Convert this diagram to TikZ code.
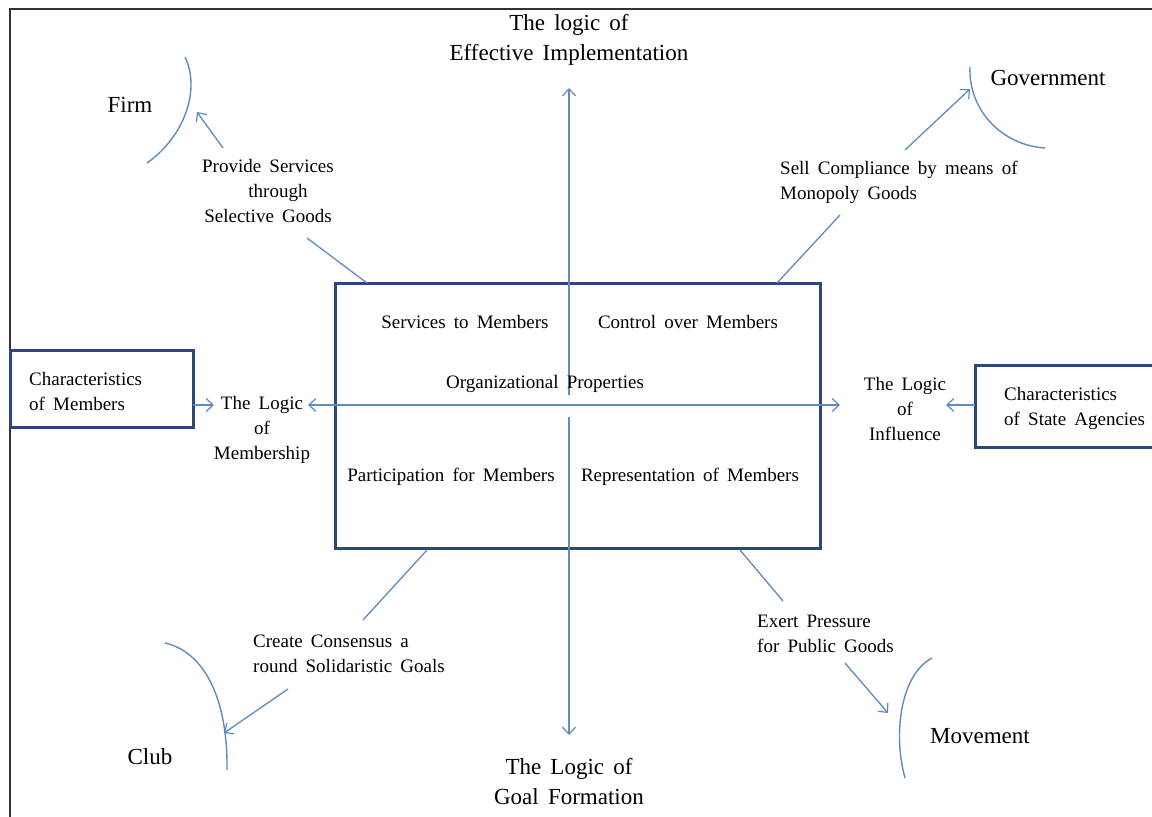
\documentclass[tikz,border=0pt]{standalone}
\usepackage{fontspec}
\setmainfont{Liberation Serif}
\usetikzlibrary{arrows.meta}
\definecolor{linkblue}{RGB}{98,138,190}
\definecolor{boxnavy}{RGB}{44,72,122}
\definecolor{framegray}{RGB}{50,50,50}
\newcommand\midfnt{\fontsize{19}{25}\selectfont\spaceskip=0.43em plus 0.1em\relax}
\newcommand\bigfnt{\fontsize{23}{30}\selectfont\spaceskip=0.4em plus 0.1em\relax}
\tikzset{
  link/.style={draw=linkblue, line width=1.3pt},
  arr/.style={link, -{Straight Barb[length=7pt,width=13pt,line width=1.2pt]}},
  darr/.style={link, {Straight Barb[length=7pt,width=13pt,line width=1.2pt]}-{Straight Barb[length=7pt,width=13pt,line width=1.2pt]}},
  arcline/.style={draw=linkblue, line width=1.4pt},
  navybox/.style={draw=boxnavy, line width=3pt},
  big/.style={inner sep=0pt, align=center, font=\bigfnt},
  mid/.style={inner sep=0pt, align=center, font=\midfnt},
  midl/.style={inner sep=0pt, align=left, anchor=west, font=\midfnt},
}
\begin{document}
\begin{tikzpicture}[x=1pt,y=-1pt]
\useasboundingbox (0,0) rectangle (1152,817);
\fill[white] (0,0) rectangle (1152,817);
% frame
\draw[framegray, line width=1.5pt] (10,817) -- (10,9) -- (1152,9);

% central box
\coordinate (bx1) at (335,283);
\coordinate (bx2) at (820,548);
\draw[navybox] (bx1) rectangle (bx2);

% axes
\coordinate (vtop) at (569,88);
\coordinate (vup) at (569,395);
\coordinate (vdn) at (569,417);
\coordinate (vbot) at (569,735);
\coordinate (hl) at (308,405);
\coordinate (hr) at (840,405);
\draw[arr] (vup) -- (vtop);
\draw[arr] (vdn) -- (vbot);
\draw[darr] (hl) -- (hr);

% inner texts
\node[mid] (serv) at (465,322) {Services to Members};
\node[mid] (ctrl) at (688,322) {Control over Members};
\node[mid] (orgp) at (545,384) {Organizational Properties};
\node[mid] (part) at (451,477) {Participation for Members};
\node[mid] (repr) at (690,477) {Representation of Members};

% top / bottom titles
\node[big] (effimp) at (569,40) {The logic of\\Effective Implementation};
\node[big] (goalf) at (569,782) {The Logic of\\Goal Formation};

% left side
\draw[navybox] (10,350) rectangle (193,427);
\node[midl] (charm) at (29,391) {Characteristics\\of Members};
\node[mid] (logm) at (262,430) {The Logic\\of\\Membership};
\coordinate (lbR) at (193,405);
\coordinate (lmL) at (214,405);
\draw[arr] (lbR) -- (lmL);

% right side
\draw[navybox] (975,365) rectangle (1158,447);
\node[midl] (chars) at (1004,408) {Characteristics\\of State Agencies};
\node[mid] (logi) at (905,409) {The Logic\\of\\Influence};
\coordinate (rbL) at (975,405);
\coordinate (riR) at (946,405);
\draw[arr] (rbL) -- (riR);

% Firm
\node[big] (firm) at (130,105) {Firm};
\draw[arcline] (185,57) .. controls (201,90) and (184,137) .. (147,163);
\node[mid] (prov) at (268,191) {Provide Services\\\hspace*{20pt}through\\Selective Goods};
\coordinate (pa1) at (223,148);
\coordinate (pa2) at (197,112);
\draw[arr] (pa1) -- (pa2);
\coordinate (pl1) at (307,238);
\coordinate (pl2) at (367,283);
\draw[link] (pl1) -- (pl2);

% Government
\node[big] (gov) at (1048,78) {Government};
\draw[arcline] (970,67) .. controls (968,108) and (1000,145) .. (1045,148);
\node[midl] (sell) at (780,182) {Sell Compliance by means of\\Monopoly Goods};
\coordinate (ga1) at (905,150);
\coordinate (ga2) at (970,89);
\draw[arr] (ga1) -- (ga2);
\coordinate (gl1) at (840,215);
\coordinate (gl2) at (777,283);
\draw[link] (gl1) -- (gl2);

% Club
\node[big] (club) at (150,757) {Club};
\draw[arcline] (165,643) .. controls (205,652) and (228,700) .. (227,770);
\node[midl] (cons) at (253,654) {Create Consensus a\\round Solidaristic Goals};
\coordinate (ca1) at (288,689);
\coordinate (ca2) at (224,733);
\draw[arr] (ca1) -- (ca2);
\coordinate (cl1) at (427,550);
\coordinate (cl2) at (363,620);
\draw[link] (cl1) -- (cl2);

% Movement
\node[big] (mov) at (980,736) {Movement};
\draw[arcline] (932,658) .. controls (900,675) and (893,735) .. (905,778);
\node[midl] (exert) at (757,634) {Exert Pressure\\for Public Goods};
\coordinate (ma1) at (845,663);
\coordinate (ma2) at (888,713);
\draw[arr] (ma1) -- (ma2);
\coordinate (ml1) at (740,550);
\coordinate (ml2) at (783,601);
\draw[link] (ml1) -- (ml2);
\end{tikzpicture}
\end{document}
